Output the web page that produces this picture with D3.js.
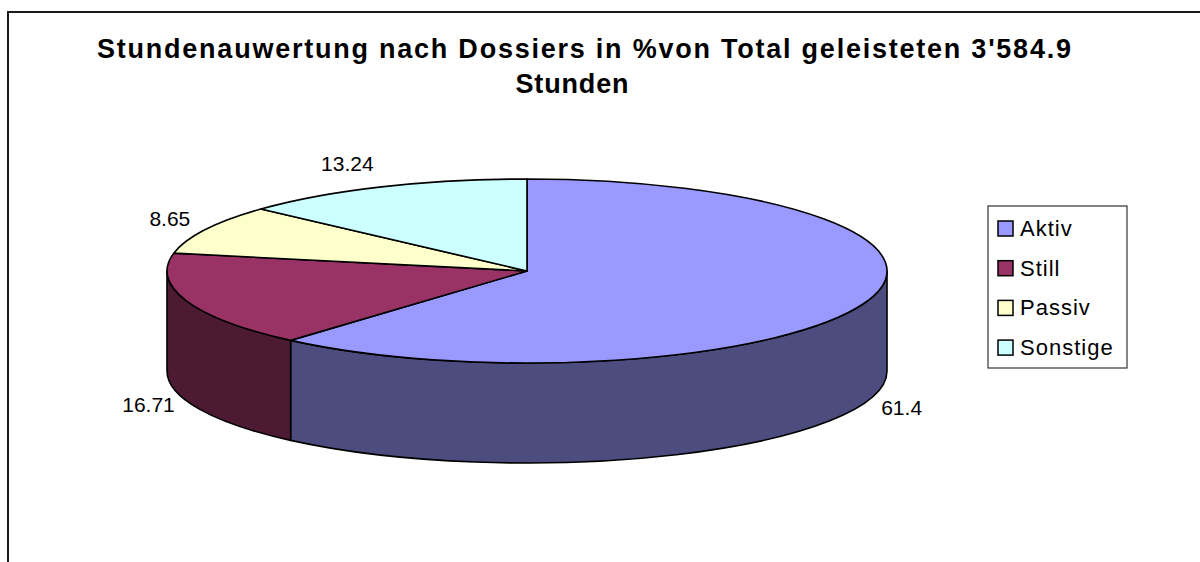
<!DOCTYPE html>
<html>
<head>
<meta charset="utf-8">
<script src="https://cdn.jsdelivr.net/npm/d3@7"></script>
<style>
  html, body { margin: 0; padding: 0; background: #fff; }
  svg { display: block; font-family: Arial, "Liberation Sans", sans-serif; }
</style>
</head>
<body>
<div id="chart"></div>
<script>
// --- Data ---
const categories = ['Aktiv', 'Still', 'Passiv', 'Sonstige'];
const values = [61.4, 16.71, 8.65, 13.24];
const labels = ['61.4', '16.71', '8.65', '13.24'];
const topColors = ['#9999ff', '#993366', '#ffffcc', '#ccffff'];
const sideColors = ['#4c4c7f', '#4c1a33', '#7f7f66', '#667f7f'];
const titleLines = ["Stundenauwertung nach Dossiers in %von Total geleisteten 3'584.9", 'Stunden'];

// --- Layout ---
const width = 1200;
const height = 562;
const cx = 527, cy = 271;   // centre of top ellipse
const rx = 360, ry = 92;    // ellipse radii
const depth = 100;          // thickness of the pie

const svg = d3.select('#chart').append('svg')
    .attr('width', width)
    .attr('height', height);

// chart area border (runs off the right and bottom of the picture)
svg.append('rect')
    .attr('x', 8).attr('y', 12)
    .attr('width', 1220).attr('height', 600)
    .attr('fill', '#fff')
    .attr('stroke', '#1a1a1a')
    .attr('stroke-width', 2);

// --- Title ---
svg.append('text')
    .attr('x', 584).attr('y', 58)
    .attr('text-anchor', 'middle')
    .attr('font-size', 27).attr('font-weight', 'bold')
    .attr('textLength', 974).attr('lengthAdjust', 'spacing')
    .text(titleLines[0]);
svg.append('text')
    .attr('x', 572).attr('y', 93)
    .attr('text-anchor', 'middle')
    .attr('font-size', 27).attr('font-weight', 'bold')
    .attr('textLength', 113).attr('lengthAdjust', 'spacing')
    .text(titleLines[1]);

// --- Pie geometry ---
const pie = d3.pie().sort(null).value(d => d);
const arcs = pie(values).map((d, i) => ({ ...d, i }));

const pt = (a, dy = 0) => [cx + rx * Math.sin(a), cy - ry * Math.cos(a) + dy];
const fmt = p => p[0].toFixed(2) + ',' + p[1].toFixed(2);

function topPath(d) {
    const large = d.endAngle - d.startAngle > Math.PI ? 1 : 0;
    return `M${cx},${cy}L${fmt(pt(d.startAngle))}A${rx},${ry} 0 ${large} 1 ${fmt(pt(d.endAngle))}Z`;
}

// outer wall of the part of a slice lying in the front half (90°..270°)
function sidePath(d) {
    const s = Math.max(d.startAngle, Math.PI / 2);
    const e = Math.min(d.endAngle, 3 * Math.PI / 2);
    if (e <= s) return null;
    return `M${fmt(pt(s))}A${rx},${ry} 0 0 1 ${fmt(pt(e))}` +
           `L${fmt(pt(e, depth))}A${rx},${ry} 0 0 0 ${fmt(pt(s, depth))}Z`;
}

const g = svg.append('g');

g.selectAll('path.side')
    .data(arcs.filter(d => sidePath(d)))
    .join('path')
    .attr('class', 'side')
    .attr('d', sidePath)
    .attr('fill', d => sideColors[d.i])
    .attr('stroke', '#000')
    .attr('stroke-width', 1.6)
    .attr('stroke-linejoin', 'round');

g.selectAll('path.top')
    .data(arcs)
    .join('path')
    .attr('class', 'top')
    .attr('d', topPath)
    .attr('fill', d => topColors[d.i])
    .attr('stroke', '#000')
    .attr('stroke-width', 1.6)
    .attr('stroke-linejoin', 'round');

// --- Data labels ---
g.selectAll('text.label')
    .data(arcs)
    .join('text')
    .attr('class', 'label')
    .attr('transform', d => {
        const a = (d.startAngle + d.endAngle) / 2;
        const front = Math.cos(a) < 0;
        const top = Math.cos(a) > 0.8;
        const x = cx + (rx + 40) * Math.sin(a) + (top ? -18 : 0);
        const y = cy - (ry + 25) * Math.cos(a) + (front ? depth - 4 : 0);
        return `translate(${x},${y})`;
    })
    .attr('text-anchor', 'middle')
    .attr('dy', '0.35em')
    .attr('font-size', 21)
    .attr('fill', '#000')
    .text(d => labels[d.i]);

// --- Legend ---
const legend = svg.append('g').attr('transform', 'translate(988,206)');
legend.append('rect')
    .attr('width', 139).attr('height', 162)
    .attr('fill', '#fff')
    .attr('stroke', '#333')
    .attr('stroke-width', 1.2);

const item = legend.selectAll('g.item')
    .data(categories)
    .join('g')
    .attr('class', 'item')
    .attr('transform', (d, i) => `translate(10,${22 + i * 39.7})`);

item.append('rect')
    .attr('x', 0).attr('y', -7)
    .attr('width', 15).attr('height', 15)
    .attr('fill', (d, i) => topColors[i])
    .attr('stroke', '#000')
    .attr('stroke-width', 1.5);

item.append('text')
    .attr('x', 22).attr('dy', '0.36em')
    .attr('font-size', 22)
    .attr('letter-spacing', 1)
    .text(d => d);
</script>
</body>
</html>
